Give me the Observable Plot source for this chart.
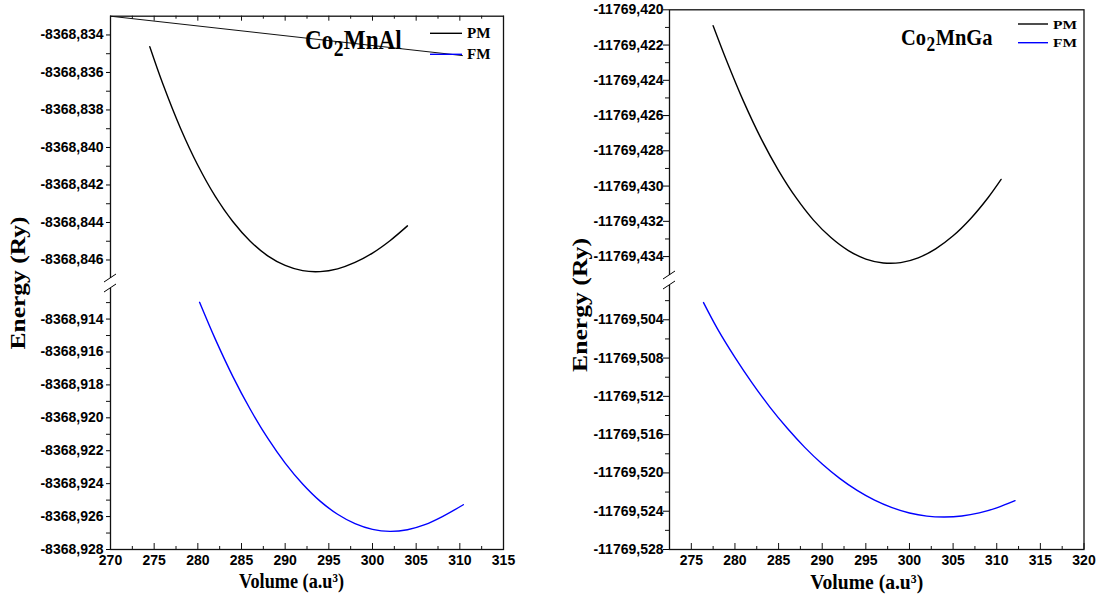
<!DOCTYPE html>
<html><head><meta charset="utf-8">
<script src="https://cdn.jsdelivr.net/npm/d3@7"></script>
<script src="https://cdn.jsdelivr.net/npm/@observablehq/plot@0.6"></script>
<style>
html,body{margin:0;padding:0;background:#fff;}
#wrap{position:relative;width:1105px;height:610px;overflow:hidden;background:#fff;}
#wrap > svg{position:absolute;top:0;}
</style></head><body><div id="wrap"></div>
<script>
// ---------- data: Co2MnAl ----------
const alPmVolume = [274.5, 276, 278, 280, 282, 284, 286, 288, 290, 292, 294, 296, 298, 300, 302, 304];
const alPmEnergy = [-8368.83463, -8368.83662, -8368.83896, -8368.84095, -8368.84261, -8368.84395, -8368.84500, -8368.84578, -8368.84629, -8368.84657, -8368.84662, -8368.84647, -8368.84613, -8368.84563, -8368.84497, -8368.84418];
const alFmVolume = [280.2, 282, 284, 286, 288, 290, 292, 294, 296, 298, 300, 302, 304, 306, 308, 310.4];
const alFmEnergy = [-8368.91298, -8368.91522, -8368.91748, -8368.91948, -8368.92124, -8368.92275, -8368.92402, -8368.92506, -8368.92586, -8368.92643, -8368.92678, -8368.92690, -8368.92680, -8368.92649, -8368.92600, -8368.92528];
const alConnectorVolume = [270, 310.3];
const alConnectorEnergy = [-8368.833, -8368.8351];

// ---------- data: Co2MnGa ----------
const gaPmVolume = [277.5, 279, 281, 283, 285, 287, 289, 291, 293, 295, 297, 299, 301, 303, 305, 307, 309, 310.5];
const gaPmEnergy = [-11769.42090, -11769.42283, -11769.42521, -11769.42731, -11769.42912, -11769.43066, -11769.43193, -11769.43292, -11769.43366, -11769.43414, -11769.43436, -11769.43434, -11769.43407, -11769.43356, -11769.43282, -11769.43185, -11769.43066, -11769.42962];
const gaFmVolume = [276.4, 278, 280, 282, 284, 286, 288, 290, 292, 294, 296, 298, 300, 302, 304, 306, 308, 310, 312.1];
const gaFmEnergy = [-11769.5022, -11769.50494, -11769.50792, -11769.51064, -11769.51312, -11769.51534, -11769.51733, -11769.51907, -11769.52057, -11769.52183, -11769.52285, -11769.52363, -11769.52419, -11769.52451, -11769.52460, -11769.52450, -11769.52418, -11769.52365, -11769.52290];

// ---------- ticks ----------
const alXMajor = [270, 275, 280, 285, 290, 295, 300, 305, 310, 315];
const alXMinor = [272.5, 277.5, 282.5, 287.5, 292.5, 297.5, 302.5, 307.5, 312.5];
const alYMajor = [-8368.834, -8368.836, -8368.838, -8368.840, -8368.842, -8368.844, -8368.846,
                  -8368.914, -8368.916, -8368.918, -8368.920, -8368.922, -8368.924, -8368.926, -8368.928];
const alYMinor = [-8368.835, -8368.837, -8368.839, -8368.841, -8368.843, -8368.845,
                  -8368.913, -8368.915, -8368.917, -8368.919, -8368.921, -8368.923, -8368.925, -8368.927];
const gaXMajor = [275, 280, 285, 290, 295, 300, 305, 310, 315, 320];
const gaXMinor = [277.5, 282.5, 287.5, 292.5, 297.5, 302.5, 307.5, 312.5, 317.5];
const gaYMajor = [-11769.420, -11769.422, -11769.424, -11769.426, -11769.428, -11769.430, -11769.432, -11769.434,
                  -11769.504, -11769.508, -11769.512, -11769.516, -11769.520, -11769.524, -11769.528];
const gaYMinor = [-11769.421, -11769.423, -11769.425, -11769.427, -11769.429, -11769.431, -11769.433,
                  -11769.502, -11769.506, -11769.510, -11769.514, -11769.518, -11769.522, -11769.526];

// ---------- axis ranges (broken axes) ----------
const alYDomain = [-8368.928, -8368.9119, -8368.8472, -8368.833];
const gaYDomain = [-11769.528, -11769.5, -11769.4353, -11769.420];

const fmt = d => d.toFixed(3).replace(".", ",");
const H = 610;

function breakMark(upperBottom, lowerTop) {
  return (index, scales, values, dims) => {
    const yA = scales.y(upperBottom), yB = scales.y(lowerTop);
    const cy = (yA + yB) / 2;
    const x = dims.marginLeft;
    const g = d3.create("svg:g");
    g.append("rect").attr("x", x - 3).attr("y", cy - 5).attr("width", 6).attr("height", 10).attr("fill", "#fff");
    for (const off of [-5, 5]) {
      g.append("line").attr("x1", x - 6).attr("y1", cy + off + 4).attr("x2", x + 6).attr("y2", cy + off - 4)
        .attr("stroke", "#000").attr("stroke-width", 1);
    }
    return g.node();
  };
}

function makePanel(c) {
  const frameW = c.width - c.marginLeft - c.marginRight;
  const frameH = H - c.marginTop - c.marginBottom;
  const pm = c.pmV.map((v, i) => ({v, e: c.pmE[i]}));
  const fm = c.fmV.map((v, i) => ({v, e: c.fmE[i]}));
  const marks = [
    Plot.frame({stroke: "#111", strokeWidth: 1.3}),
    Plot.tickY(c.yMinor, {y: d => d, insetLeft: -4, insetRight: frameW, stroke: "#111"}),
    Plot.axisY({ticks: c.yMajor, tickFormat: fmt, tickSize: c.yTickSize, tickPadding: c.yTickPadding, label: null,
                fontSize: 14, fontWeight: "bold"}),
    Plot.tickX(c.xMajor, {x: d => d, insetTop: frameH - 6, stroke: "#111"}),
    Plot.tickX(c.xMinor, {x: d => d, insetTop: frameH - 3, stroke: "#111"}),
    Plot.axisX({ticks: c.xMajor, tickSize: 0, tickPadding: 6, label: null, tickFormat: d => String(d),
                fontSize: 14, fontWeight: "bold"})
  ];
  if (c.topTicks) {
    marks.push(Plot.tickX(c.xMajor, {x: d => d, insetBottom: frameH - 5, stroke: "#111"}));
    marks.push(Plot.tickX(c.xMinor, {x: d => d, insetBottom: frameH - 3, stroke: "#111"}));
  }
  if (c.connector) marks.push(Plot.line(c.connector, {x: "v", y: "e", stroke: "#111", strokeWidth: 1}));
  marks.push(Plot.line(pm, {x: "v", y: "e", stroke: "#000", strokeWidth: 1.4, curve: "catmull-rom"}));
  marks.push(Plot.line(fm, {x: "v", y: "e", stroke: "#0000ff", strokeWidth: 1.4, curve: "catmull-rom"}));
  marks.push(breakMark(c.yDomain[2], c.yDomain[1]));
  return Plot.plot({
    width: c.width, height: H,
    marginLeft: c.marginLeft, marginRight: c.marginRight, marginTop: c.marginTop, marginBottom: c.marginBottom,
    x: {domain: c.xDomain},
    y: {type: "linear", domain: c.yDomain, range: c.yRange},
    style: {fontFamily: '"Liberation Sans", Arial, sans-serif', fontSize: "14px", fontWeight: "bold", color: "#000", background: "transparent", overflow: "visible"},
    marks
  });
}

const wrap = document.getElementById("wrap");

const left = makePanel({
  width: 552, marginLeft: 110, marginRight: 49, marginTop: 15.7, marginBottom: 61,
  xDomain: [270, 315], yDomain: alYDomain, yRange: [549, 284, 282, 15.7],
  xMajor: alXMajor, xMinor: alXMinor, yMajor: alYMajor, yMinor: alYMinor,
  yTickSize: 4, yTickPadding: 3, topTicks: true,
  pmV: alPmVolume, pmE: alPmEnergy, fmV: alFmVolume, fmE: alFmEnergy,
  connector: alConnectorVolume.map((v, i) => ({v, e: alConnectorEnergy[i]}))
});
left.style.left = "0px";
wrap.appendChild(left);

const right = makePanel({
  width: 553, marginLeft: 117, marginRight: 21.5, marginTop: 9.3, marginBottom: 61,
  xDomain: [272.5, 320], yDomain: gaYDomain, yRange: [549, 281, 279, 9.3],
  xMajor: gaXMajor, xMinor: gaXMinor, yMajor: gaYMajor, yMinor: gaYMinor,
  yTickSize: 6, yTickPadding: 0, topTicks: false,
  pmV: gaPmVolume, pmE: gaPmEnergy, fmV: gaFmVolume, fmE: gaFmEnergy
});
right.style.left = "552px";
wrap.appendChild(right);

// ---------- overlay: titles, legends, axis titles ----------
const ov = d3.select(wrap).append("svg").attr("width", 1105).attr("height", 610)
  .style("left", "0px").style("pointer-events", "none")
  .attr("font-family", '"Liberation Serif", "Times New Roman", serif').attr("font-weight", "bold");

// compound title: "Co", subscript "2", "Mn…", laid out as separate texts and squeezed to the reference width
function title(x, y, size, len, b) {
  const g = ov.append("g");
  const parts = [["Co", size, 0], ["2", size * 0.85, size * 0.27], ["Mn" + b, size, 0]];
  let cx = 0;
  parts.forEach(([s, fs, dy]) => {
    const t = g.append("text").attr("x", cx).attr("y", dy).attr("font-size", fs).text(s);
    cx += t.node().getComputedTextLength() + 0.5;
  });
  const sx = len / cx;
  g.attr("transform", `translate(${x},${y}) scale(${sx},1)`);
}
title(305, 49, 27, 97, "Al");
title(901, 45, 24, 92, "Ga");

function legend(x1, x2, yPM, yFM, size, len) {
  [["PM", yPM, "#000"], ["FM", yFM, "#0000ff"]].forEach(([name, y, col]) => {
    ov.append("line").attr("x1", x1).attr("x2", x2).attr("y1", y).attr("y2", y).attr("stroke", col).attr("stroke-width", 1.4);
    ov.append("text").attr("x", x2 + 5).attr("y", y + size * 0.35).attr("font-size", size)
      .attr("textLength", len).attr("lengthAdjust", "spacingAndGlyphs").text(name);
  });
}
legend(430, 462, 33.3, 54.3, 14, 23.5);
legend(1018, 1048, 24, 42.7, 13, 24);

function energyLabel(cx, cy, len) {
  ov.append("text").attr("transform", `translate(${cx},${cy}) rotate(-90)`).attr("text-anchor", "middle")
    .attr("dy", "0.35em").attr("font-size", 22).attr("textLength", len).attr("lengthAdjust", "spacingAndGlyphs")
    .text("Energy (Ry)");
}
energyLabel(17, 283, 133);
energyLabel(579, 305, 134);

function volumeLabel(cx, base, len) {
  ov.append("text").attr("x", cx).attr("y", base).attr("text-anchor", "middle").attr("font-size", 21)
    .attr("textLength", len).attr("lengthAdjust", "spacingAndGlyphs")
    .text("Volume (a.u³)");
}
volumeLabel(291.5, 588, 105);
volumeLabel(866.7, 589, 113);
</script>
</body></html>
